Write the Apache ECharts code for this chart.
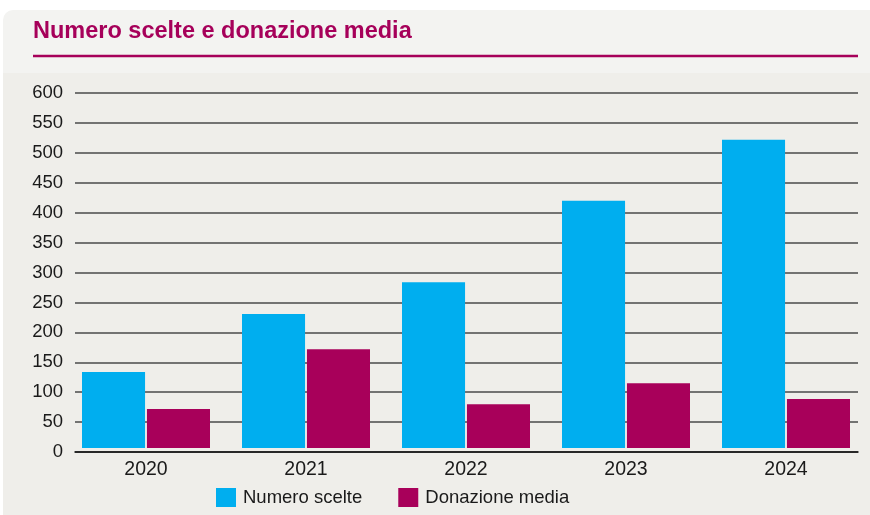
<!DOCTYPE html>
<html><head><meta charset="utf-8">
<script src="https://cdn.jsdelivr.net/npm/echarts@6/dist/echarts.min.js"></script>
<style>html,body{margin:0;padding:0;background:#fff}#c{width:870px;height:515px}</style>
</head><body><div id="c"></div>
<script>
var categories = ['2020','2021','2022','2023','2024'];
var numeroScelte = [134, 231, 284, 420, 522];
var donazioneMedia = [72, 172, 80, 115, 89];
var yTicks = {min:0, max:600, interval:50};

var chart = echarts.init(document.getElementById('c'));
var font = '"Liberation Sans", Arial, sans-serif';
chart.setOption({
  animation:false,
  backgroundColor:'#ffffff',
  graphic:[
    {type:'rect', z:-10, shape:{x:3,y:10,width:870,height:510,r:[10,0,0,0]}, style:{fill:'#f3f3f1'}},
    {type:'rect', z:-9, shape:{x:3,y:73,width:870,height:450}, style:{fill:'#efeeea'}},
    {type:'text', left:33, top:20, style:{text:'Numero scelte e donazione media', fill:'#a6005a', font:'bold 23.5px "Liberation Sans", Arial, sans-serif'}},
    {type:'line', shape:{x1:33,y1:56,x2:858,y2:56}, style:{stroke:'#a6005a', lineWidth:2.5}}
  ],
  legend:{
    left:216, top:488, padding:0, itemWidth:20, itemHeight:19, itemGap:36,
    icon:'rect',
    textStyle:{fontFamily:font, fontSize:18.5, color:'#1a1a1a', padding:[0,0,0,2]},
    data:['Numero scelte','Donazione media']
  },
  grid:[
    {left:75, right:12, top:93, bottom:63},
    {left:66, right:4, top:93, bottom:67}
  ],
  xAxis:[
    {type:'category', gridIndex:0, data:categories, axisLabel:{show:false}, axisTick:{show:false},
     axisLine:{lineStyle:{color:'#111', width:1.5}}},
    {type:'category', gridIndex:1, data:categories, axisTick:{show:false}, axisLine:{show:false},
     axisLabel:{fontFamily:font, fontSize:19.5, color:'#1a1a1a', margin:12}}
  ],
  yAxis:[
    {type:'value', gridIndex:0, min:yTicks.min, max:yTicks.max, interval:yTicks.interval,
     axisLine:{show:false}, axisTick:{show:false},
     axisLabel:{fontFamily:font, fontSize:18.5, color:'#1a1a1a', margin:12},
     splitLine:{lineStyle:{color:'#4a4a4a', width:1.5}}},
    {type:'value', gridIndex:1, min:7, max:600, show:false, splitLine:{show:false}}
  ],
  series:[
    {name:'Numero scelte', type:'bar', xAxisIndex:1, yAxisIndex:1, data:numeroScelte,
     itemStyle:{color:'#00aeef'}, barGap:'3%', barCategoryGap:'20%'},
    {name:'Donazione media', type:'bar', xAxisIndex:1, yAxisIndex:1, data:donazioneMedia,
     itemStyle:{color:'#a8005a'}, barGap:'3%', barCategoryGap:'20%'}
  ]
});
</script></body></html>
